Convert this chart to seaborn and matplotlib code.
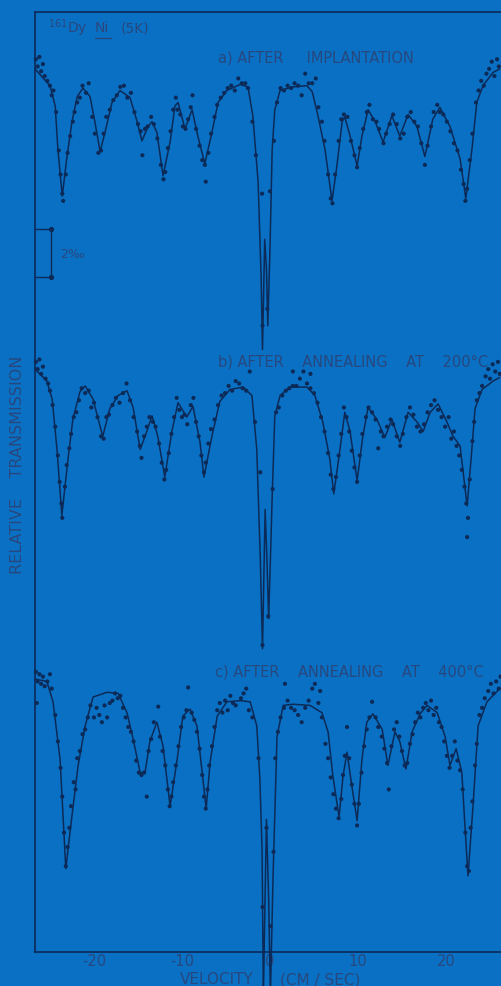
import numpy as np
import pandas as pd
import matplotlib
matplotlib.use("Agg")
import matplotlib.pyplot as plt
import seaborn as sns

BG = "#0a70c4"
INK = "#0c2a57"
TXT = "#27487e"

# ---------------- data (velocity in cm/s, relative transmission in permille) -------------
a_curve_v = [-26.7, -25.0, -24.4, -24.1, -23.6, -23.1, -22.5, -21.9, -21.25, -20.45, -19.9, -19.3,
             -18.75, -17.95, -17.05, -15.9, -15.1, -14.55, -13.85, -13.4, -12.85, -12.15, -11.35,
             -10.8, -10.45, -9.65, -8.85, -8.2, -7.4, -6.6, -5.9, -4.9, -3.4, -2.5, -1.95, -1.35,
             -1.0, -0.85, -0.6, -0.4, -0.25, 0.0, 0.25, 0.55, 1.15, 2.6, 4.2, 4.8, 5.45, 6.25, 7.05,
             7.6, 8.2, 8.5, 9.1, 9.9, 10.45, 11.15, 11.95, 12.85, 13.85, 14.75, 15.7, 16.7, 17.6,
             18.5, 19.3, 20.45, 21.6, 22.25, 22.95, 23.5, 24.2, 25.35, 26.1]
a_curve_t = [-0.2, -0.9, -1.75, -3.55, -5.5, -3.95, -2.4, -1.35, -1.0, -1.35, -2.4, -3.65,
             -2.85, -1.6, -1.1, -1.4, -2.4, -3.2, -2.6, -2.4, -2.85, -4.65, -3.25,
             -1.75, -1.6, -2.7, -1.9, -3.0, -4.15, -2.85, -1.6, -1.1, -0.85, -0.95, -2.15, -4.9,
             -8.95, -11.9, -7.3, -8.55, -10.9, -7.7, -3.55, -1.9, -1.1, -0.95, -0.9, -1.15, -2.15, -3.55, -5.7,
             -4.25, -2.4, -2.2, -3.0, -4.25, -3.0, -1.9, -2.4, -3.25, -2.15, -3.0, -2.1, -2.6, -3.85,
             -2.3, -1.8, -2.6, -3.95, -5.6, -3.55, -1.6, -0.9, -0.35, -0.2]

a_pts_v = [-26.6, -26.4, -26.2, -26.0, -25.8, -25.6, -25.3, -25.0, -24.8, -24.6,
           -24.3, -24.0, -23.8, -23.6, -23.5, -23.2, -23.0,
           -22.7, -22.4, -22.2, -21.9, -21.6, -21.3, -20.9, -20.6,
           -20.2, -19.9, -19.5, -19.2, -18.9, -18.6,
           -18.2, -17.8, -17.4, -17.0, -16.6, -16.2, -15.8,
           -15.4, -15.0, -14.7, -14.5, -14.2, -13.9, -13.5, -13.2,
           -12.8, -12.4, -12.1, -11.9, -11.6, -11.3,
           -11.0, -10.7, -10.5, -10.2, -9.9, -9.6, -9.3, -9.0, -8.8,
           -8.4, -8.0, -7.7, -7.4, -7.3, -7.0, -6.7,
           -6.3, -6.0, -5.6, -5.2, -4.8, -4.4, -4.0, -3.6, -3.2, -2.8, -2.5,
           -2.0, -1.6, -0.9, -0.85, -0.3, 0.0, 0.45,
           0.8, 1.2, 1.6, 2.0, 2.4, 2.8, 3.2, 3.6, 4.0, 4.4, 4.8, 5.2,
           5.5, 5.9, 6.2, 6.6, 6.9, 7.1, 7.4, 7.8, 8.1, 8.4, 8.8,
           9.2, 9.6, 9.9, 10.2, 10.6, 11.0, 11.3, 11.7, 12.1, 12.4, 12.9, 13.2, 13.6, 14.0,
           14.4, 14.8, 15.2, 15.6, 16.0, 16.4, 16.8,
           17.2, 17.6, 17.9, 18.3, 18.6, 19.0, 19.3, 19.7, 20.1, 20.5, 20.9, 21.3, 21.7, 22.0,
           22.2, 22.4, 22.7, 23.0, 23.4, 23.7,
           24.0, 24.3, 24.6, 24.9, 25.2, 25.5, 25.8, 26.0]
a_pts_t = [0.2, -0.1, 0.3, -0.3, 0.0, -0.5, -0.7, -0.9, -1.3, -1.1,
           -2.0, -3.6, -4.6, -5.4, -5.7, -4.6, -3.7,
           -3.0, -2.4, -2.0, -1.6, -1.4, -0.9, -1.2, -0.8,
           -2.2, -2.9, -3.7, -3.6, -2.9, -2.2,
           -1.9, -1.5, -1.3, -0.95, -0.9, -1.4, -1.2,
           -2.0, -2.5, -2.8, -3.8, -2.7, -2.6, -2.2, -2.5,
           -3.1, -4.2, -4.8, -4.5, -3.5, -2.8,
           -1.9, -1.4, -1.9, -2.1, -2.6, -2.7, -2.3, -1.8, -1.3,
           -2.7, -3.4, -4.0, -4.2, -4.9, -3.7, -2.9,
           -2.2, -1.7, -1.4, -1.2, -1.0, -0.9, -1.1, -0.6, -0.8, -0.8, -1.0,
           -2.4, -3.8, -5.4, -10.9, -10.2, -5.3, -3.2,
           -1.6, -1.0, -1.1, -0.9, -1.0, -0.8, -0.9, -1.3, -0.4, -0.8, -0.8, -0.6,
           -1.8, -2.4, -3.2, -4.6, -5.6, -5.8, -4.6, -3.2, -2.3, -2.1, -2.2,
           -3.2, -3.8, -4.3, -3.5, -2.7, -2.0, -1.7, -2.3, -2.4, -2.7, -3.3, -2.9, -2.5, -2.1,
           -2.5, -3.1, -2.9, -2.2, -2.0, -2.4, -2.6,
           -3.3, -4.2, -3.4, -2.6, -2.0, -1.7, -2.0, -2.1, -2.4, -2.8, -3.3, -3.6, -4.4, -5.0,
           -5.7, -5.2, -4.0, -2.9, -1.6, -1.1,
           -0.7, -0.9, -0.4, -0.2, 0.1, -0.5, 0.2, -0.1]

b_curve_v = [-26.7, -25.35, -24.75, -24.2, -23.65, -22.95, -22.4, -21.6, -21.0, -20.1, -19.3, -19.0,
             -18.2, -17.25, -16.25, -15.55, -14.75, -14.0, -13.4, -12.75, -11.95, -11.15, -10.45,
             -9.45, -8.75, -7.95, -7.5, -6.6, -5.7, -4.55, -3.05, -2.05, -1.5, -1.1, -0.85, -0.55,
             -0.35, -0.15, 0.05, 0.25, 0.55, 1.15, 2.25, 4.2, 5.1, 6.0, 6.8, 7.25, 7.95, 8.5, 9.1,
             9.9, 10.55, 11.15, 12.15, 13.05, 13.85, 14.75, 15.7, 16.7, 17.4, 18.2, 19.1, 20.1,
             20.8, 21.6, 22.4, 22.85, 23.3, 24.1, 25.35, 26.1]
b_curve_t = [0.0, -0.5, -1.25, -3.35, -6.1, -3.75, -2.1, -0.95, -0.7, -1.25, -2.4, -2.8,
             -1.65, -1.1, -0.9, -1.6, -3.35, -2.6, -1.95, -2.8, -4.5, -2.6, -1.4,
             -2.0, -1.55, -3.05, -4.5, -2.8, -1.35, -0.85, -0.75, -1.1, -3.35, -7.9, -11.65, -5.85,
             -7.9, -10.4, -7.9, -5.3, -1.95, -1.1, -0.75, -0.75, -1.1, -2.2, -3.75, -5.2, -3.35, -1.8, -2.6,
             -4.65, -2.8, -1.6, -2.1, -2.85, -2.1, -3.05, -1.8, -2.2, -2.6, -1.8, -1.45, -2.2,
             -2.8, -3.2, -5.7, -3.75, -1.65, -0.85, -0.5, -0.35]

b_pts_v = [-26.6, -26.4, -26.2, -26.0, -25.8, -25.5, -25.2, -25.0, -24.7,
           -24.4, -24.1, -23.9, -23.7, -23.6, -23.3, -23.1, -22.8, -22.6, -22.3, -22.0, -21.7,
           -21.4, -21.0, -20.6, -20.3,
           -20.0, -19.6, -19.2, -18.9, -18.6, -18.3, -17.9, -17.5, -17.1, -16.7, -16.3, -15.9,
           -15.5, -15.1, -14.8, -14.6, -14.3, -14.0, -13.7, -13.3, -13.0, -12.6, -12.3, -12.0,
           -11.8, -11.5, -11.2, -10.9, -10.6, -10.3, -10.0, -9.7, -9.4, -9.0, -8.7, -8.4, -8.1,
           -7.8, -7.5, -7.3, -7.0, -6.7, -6.3, -5.9, -5.5, -5.1, -4.7, -4.3, -3.9, -3.5, -3.1,
           -2.7, -2.3,
           -1.7, -1.1, -0.85, -0.2, 0.3,
           0.7, 1.0, 1.4, 1.8, 2.2, 2.6, 3.0, 3.4, 3.8, 4.2, 4.6, 2.6, 4.6,
           5.0, 5.4, 5.8, 6.2, 6.6, 6.9, 7.2, 7.5, 7.8, 8.1, 8.4, 8.7, 9.0, 9.3, 9.6, 9.9,
           10.2, 10.5, 10.9, 11.2, 11.6, 12.0, 12.3, 12.6, 12.9, 13.3, 13.7, 14.0, 14.4, 14.8,
           15.1, 15.5, 15.9, 16.3, 16.7, 17.1, 17.5, 17.9, 18.3, 18.7, 19.1, 19.5, 19.9, 20.3,
           20.6, 20.9, 21.2, 21.5, 21.8, 22.1, 22.3, 22.5, 22.4, 22.7, 23.0, 23.2, 23.5, 23.8,
           24.1, 24.5, 24.8, 25.0, 25.3, 25.6, 25.9, 26.1]
b_pts_t = [0.3, 0.0, 0.4, -0.2, 0.1, -0.4, -0.6, -0.9, -1.5,
           -2.4, -3.6, -4.7, -5.6, -6.2, -4.9, -4.0, -3.3, -2.7, -2.0, -1.8, -1.3,
           -0.8, -1.0, -0.9, -1.6,
           -1.4, -2.0, -2.8, -2.9, -2.0, -1.9, -1.5, -1.2, -1.4, -1.0, -0.6, -1.3,
           -2.0, -2.6, -3.2, -3.7, -2.8, -2.4, -2.0, -2.2, -2.4, -3.1, -3.9, -4.6,
           -4.2, -3.5, -2.7, -2.0, -1.2, -1.7, -2.0, -1.9, -2.3, -1.5, -1.2, -2.2, -2.8,
           -3.6, -4.3, -3.9, -3.1, -2.5, -2.1, -1.5, -1.1, -1.0, -0.7, -0.9, -0.5, -0.6, -0.8,
           -0.9, -0.1,
           -2.2, -4.3, -11.5, -10.3, -5.0,
           -1.8, -1.6, -1.1, -0.9, -0.8, -0.7, -0.7, -0.4, -0.1, -0.6, -0.8, -0.1, -0.2,
           -1.0, -1.4, -2.0, -2.6, -3.5, -4.4, -5.0, -4.5, -3.6, -2.7, -1.6, -2.0, -2.6, -3.4, -4.1, -4.7,
           -3.6, -2.7, -2.0, -1.6, -1.8, -2.1, -3.3, -2.6, -2.8, -2.4, -2.1, -2.3, -2.8, -3.2,
           -2.7, -2.0, -1.6, -1.9, -2.4, -2.6, -2.3, -1.8, -1.5, -1.3, -1.7, -2.0, -2.4, -2.0,
           -2.9, -2.6, -3.2, -3.6, -4.2, -4.9, -5.6, -6.2, -7.0, -4.6, -3.0, -2.2, -1.3, -1.0,
           -0.7, -0.3, 0.0, -0.4, 0.2, -0.1, 0.3, -0.2]

c_curve_v = [-26.7, -25.35, -24.65, -23.85, -23.2, -22.5, -21.8, -21.0, -20.1, -18.5, -17.25,
             -16.25, -15.55, -14.75, -14.2, -13.65, -12.85, -12.15, -11.35, -10.55, -9.9, -9.1,
             -8.3, -7.75, -7.25, -6.8, -6.0, -4.9, -3.4, -2.25, -1.5, -1.15, -0.9, -0.75, -0.4,
             -0.15, 0.05, 0.35, 0.8, 1.5, 2.6, 4.55, 5.9, 6.6, 7.15, 7.85, 8.3, 8.75, 9.3, 9.9,
             10.45, 11.0, 11.7, 12.75, 13.4, 14.2, 14.75, 15.45, 16.15, 17.05, 17.85, 19.0, 19.9,
             20.45, 21.15, 21.8, 22.15, 22.5, 23.05, 23.65, 24.65, 26.1]
c_curve_t = [0.0, -0.1, -0.95, -3.35, -7.9, -5.7, -3.6, -1.95, -0.75, -0.55, -0.6,
             -1.4, -2.5, -3.9, -3.9, -2.6, -1.8, -2.8, -5.3, -3.35, -1.55, -1.25,
             -1.95, -3.75, -5.4, -3.45, -1.55, -0.95, -0.9, -0.95, -1.95, -4.15, -7.1, -13.2, -5.85,
             -9.15, -13.2, -8.2, -2.4, -1.1, -1.05, -1.1, -1.4, -2.2, -4.05, -5.75, -4.05, -3.05, -4.45, -5.9,
             -3.35, -1.8, -1.45, -2.1, -3.6, -2.2, -2.6, -3.75, -2.2, -1.45, -1.1, -1.4, -2.4,
             -3.6, -2.9, -3.9, -6.1, -8.2, -5.4, -1.95, -0.95, -0.4]

c_pts_v = [-26.6, -26.4, -26.2, -26.0, -25.8, -25.6, -25.3, -25.0, -24.8, -26.5,
           -24.4, -24.1, -23.8, -23.6, -23.4, -23.2, -23.0, -22.8, -22.6, -22.3, -22.1, -21.9,
           -21.6, -21.3, -21.0, -20.7, -20.4, -20.0, -19.7, -19.4, -19.1, -18.8, -18.5, -18.2,
           -17.9, -17.6, -17.3, -17.0, -16.7, -16.4, -16.1,
           -15.8, -15.5, -15.2, -14.9, -14.6, -14.3, -14.0,
           -13.8, -13.5, -13.2, -12.7, -12.5, -12.2, -11.9, -11.6, -11.4, -11.2, -11.0, -10.7,
           -10.4, -10.1, -9.8, -9.5, -9.3, -8.9, -8.6, -8.3, -8.0, -7.7, -7.5, -7.3, -7.1, -6.9,
           -6.6, -6.3, -6.0, -5.7, -5.4, -5.1, -4.8, -4.5, -4.2, -3.9, -3.3, -3.0, -2.7, -2.4, -2.0,
           -1.3, -0.85, -0.4, 0.05, 0.4, 0.6,
           0.9, 1.2, 1.6, 1.7, 2.0, 2.4, 2.8, 3.2, 3.6, 4.0, 4.4, 4.8, 5.1, 5.7,
           5.5, 5.9, 6.3, 6.6, 6.9, 7.2, 7.5, 7.8, 8.1, 8.3, 8.5, 8.75, 9.0, 9.3, 9.6, 9.9,
           10.1, 10.4, 10.7, 11.0, 11.3, 11.6, 12.0, 12.3, 12.7, 13.0, 13.3, 13.5, 13.8, 14.1,
           14.4, 14.7, 15.0, 15.3, 15.6, 15.9, 16.2, 16.5, 16.8, 17.1, 17.4, 17.7, 18.0, 18.3,
           18.6, 18.9, 19.2, 19.5, 19.8, 20.1, 20.4, 20.7, 21.0, 21.3, 21.6, 21.9, 22.2, 22.4,
           22.6, 22.8, 23.0, 23.3, 23.5, 23.8, 24.1, 24.4,
           24.8, 25.1, 25.4, 25.7, 26.0, 26.2]
c_pts_t = [0.3, -0.1, 0.2, -0.2, 0.1, -0.3, -0.1, 0.2, -0.4, -1.0,
           -1.5, -2.6, -3.7, -4.9, -6.4, -7.8, -7.0, -6.2, -5.3, -4.3, -4.6, -3.3,
           -3.0, -2.3, -2.1, -1.6, -1.1, -1.6, -1.2, -1.5, -1.8, -1.1, -1.6, -1.0,
           -0.9, -0.6, -0.8, -0.7, -1.2, -1.6, -2.0,
           -2.2, -2.6, -3.4, -3.9, -4.0, -3.9, -4.9,
           -3.0, -2.5, -1.8, -1.15, -2.4, -3.0, -3.6, -4.6, -5.3, -4.9, -4.3, -3.6,
           -2.8, -2.0, -1.6, -1.3, -0.35, -1.4, -1.7, -2.2, -2.9, -4.0, -4.9, -5.4, -4.6, -3.6,
           -2.8, -2.0, -1.3, -1.0, -1.4, -0.9, -1.3, -0.7, -1.0, -1.1, -0.8, -0.6, -0.4, -1.3, -1.6,
           -3.3, -9.5, -6.2, -10.3, -7.2, -3.3,
           -2.2, -1.6, -1.2, -0.2, -0.9, -1.2, -1.3, -1.5, -1.8, -1.2, -0.9, -0.4, -0.2, -0.5,
           -1.0, -1.6, -2.7, -3.3, -4.1, -4.8, -5.4, -5.8, -5.0, -4.0, -3.2, -2.0, -3.3, -4.4, -5.2, -6.1,
           -5.2, -3.9, -2.8, -2.1, -1.6, -0.95, -1.6, -2.0, -2.4, -2.9, -3.5, -4.6, -2.8, -2.1,
           -1.8, -2.4, -3.0, -3.6, -3.5, -2.7, -2.3, -1.8, -1.4, -1.6, -1.2, -1.0, -1.3, -0.9,
           -1.5, -1.2, -1.8, -2.0, -2.6, -3.2, -3.7, -3.2, -2.6, -3.4, -3.8, -4.6, -6.4, -7.8,
           -8.0, -6.2, -5.1, -3.6, -2.7, -1.5, -1.2, -0.8,
           -0.5, -0.2, -0.6, -0.1, -0.4, 0.1]

panel_offsets = [0.0, -12.71, -25.625]
panel_labels = ["a) AFTER     IMPLANTATION",
                "b) AFTER    ANNEALING    AT    200°C",
                "c) AFTER    ANNEALING    AT    400°C"]
x_ticks = [-20, -10, 0, 10, 20]
x_minor = [-25, -15, -5, 5, 15, 25]
scale_bar_permille = 2.0

# ---------------- figure -------------
sns.set_style("white", rc={"axes.facecolor": BG, "figure.facecolor": BG,
                           "axes.edgecolor": INK})
plt.rcParams['font.family'] = ['DejaVu Sans']

fig = plt.figure(figsize=(5.01, 9.87), dpi=100)
fig.patch.set_facecolor(BG)
ax = fig.add_axes([35 / 501, 34 / 987, 466 / 501, 940 / 987])
ax.set_facecolor(BG)

curves = [(a_curve_v, a_curve_t), (b_curve_v, b_curve_t), (c_curve_v, c_curve_t)]
points = [(a_pts_v, a_pts_t), (b_pts_v, b_pts_t), (c_pts_v, c_pts_t)]

for (cv, ct), (pv, pt), off in zip(curves, points, panel_offsets):
    dfc = pd.DataFrame({"v": cv, "t": np.array(ct) + off})
    dfp = pd.DataFrame({"v": pv, "t": np.array(pt) + off})
    sns.lineplot(data=dfc, x="v", y="t", ax=ax, color=INK, lw=1.1,
                 estimator=None, sort=False, clip_on=False, zorder=3)
    sns.scatterplot(data=dfp, x="v", y="t", ax=ax, color=INK, s=9,
                    edgecolor="none", zorder=4, clip_on=False)

ax.set_xlim(-26.7, 26.25)
ax.set_ylim(-37.0, 2.17)

for side in ["left", "bottom", "top"]:
    ax.spines[side].set_visible(True)
    ax.spines[side].set_color(INK)
    ax.spines[side].set_linewidth(1.2)
ax.spines["right"].set_visible(False)

ax.set_xticks(x_ticks)
ax.set_xticklabels([str(t) for t in x_ticks])
ax.set_xticks(x_minor, minor=True)
ax.set_yticks([])
ax.tick_params(axis="x", which="major", direction="in", length=7, width=1.1,
               color=INK, labelcolor=TXT, labelsize=10.5, pad=1)
ax.tick_params(axis="x", which="minor", direction="in", length=4, width=1.0,
               color=INK)
ax.set_xlabel("")
ax.set_ylabel("")

# scale bar (2 permille)
sb_x = -24.9
sb_top = -6.875
sb_bot = sb_top - scale_bar_permille
ax.plot([sb_x, sb_x], [sb_top, sb_bot], color=INK, lw=1.0)
ax.plot([-26.7, sb_x], [sb_top, sb_top], color=INK, lw=1.0)
ax.plot([-26.7, sb_x], [sb_bot, sb_bot], color=INK, lw=1.0)
ax.plot([sb_x, sb_x], [sb_top, sb_bot], "o", color=INK, ms=2.8)
ax.text(-23.9, (sb_top + sb_bot) / 2, "2‰", color=TXT, fontsize=9,
        va="center", ha="left")

# titles
ax.text(-25.2, 1.54, "$^{161}$Dy", color=TXT, fontsize=10, va="center", ha="left")
ax.text(-19.9, 1.54, "Ni", color=TXT, fontsize=10, va="center", ha="left")
ax.plot([-19.9, -18.1], [1.1, 1.1], color=TXT, lw=0.9)
ax.text(-16.9, 1.54, "(5K)", color=TXT, fontsize=10, va="center", ha="left")
label_pos = [(-5.9, 0.29), (-5.9, -12.375), (-6.25, -25.3)]
for (lx, ly), txt in zip(label_pos, panel_labels):
    ax.text(lx, ly, txt, color=TXT, fontsize=10.5, va="center", ha="left")

fig.text(18 / 501, 1 - 465 / 987, "RELATIVE    TRANSMISSION", rotation=90, color=TXT,
         fontsize=11.5, ha="center", va="center")
fig.text(217 / 501, 1 - 980 / 987, "VELOCITY", color=TXT, fontsize=11, ha="center", va="center")
fig.text(320 / 501, 1 - 980 / 987, "(CM / SEC)", color=TXT, fontsize=11, ha="center", va="center")

fig.savefig("out.png", dpi=100, facecolor=BG)
